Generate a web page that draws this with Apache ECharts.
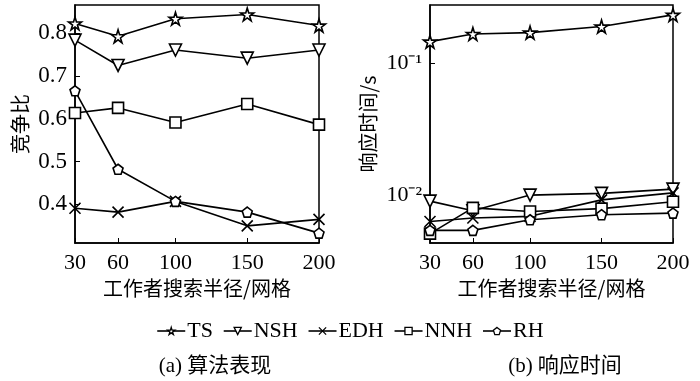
<!DOCTYPE html>
<html>
<head>
<meta charset="utf-8">
<script src="https://cdn.jsdelivr.net/npm/echarts@6/dist/echarts.min.js"></script>
<style>
  html, body { margin: 0; padding: 0; background: #fff; }
  #main { width: 700px; height: 381px; }
</style>
</head>
<body>
<div id="main"></div>
<script>
// 横轴：工作者搜索半径
var radius = [30, 60, 100, 150, 200];
var names = ['TS', 'NSH', 'EDH', 'NNH', 'RH'];

// (a) 竞争比
var ratioTS  = [0.822, 0.792, 0.833, 0.843, 0.817];
var ratioNSH = [0.783, 0.724, 0.760, 0.741, 0.760];
var ratioEDH = [0.391, 0.382, 0.407, 0.350, 0.365];
var ratioNNH = [0.613, 0.625, 0.591, 0.634, 0.586];
var ratioRH  = [0.665, 0.482, 0.407, 0.382, 0.333];

// (b) 响应时间 (s)
var timeTS  = [0.146, 0.167, 0.171, 0.190, 0.233];
var timeNSH = [0.0090, 0.0076, 0.0100, 0.0103, 0.0111];
var timeEDH = [0.0063, 0.0067, 0.0069, 0.0092, 0.0104];
var timeNNH = [0.0051, 0.0080, 0.0075, 0.0079, 0.0089];
var timeRH  = [0.0054, 0.0054, 0.0065, 0.0071, 0.0073];

var xTicks = [30, 60, 100, 150, 200];
var ratioTicks = [0.4, 0.5, 0.6, 0.7, 0.8];
var timeTicks = [0.01, 0.1];

var font = "'Liberation Serif', 'Noto Sans CJK SC', serif";
var cjk = "'Noto Sans CJK SC', 'Liberation Serif', sans-serif";

var symbols = {
  TS: { symbol: 'path://M50,0 L61,35 L98,35 L68,57 L79,91 L50,70 L21,91 L32,57 L2,35 L39,35 Z', size: 13, rotate: 0 },
  NSH: { symbol: 'triangle', size: 12, rotate: 180 },
  EDH: { symbol: 'path://M0,0 L10,10 M10,0 L0,10', size: 11, rotate: 0 },
  NNH: { symbol: 'rect', size: 11, rotate: 0 },
  RH: { symbol: 'path://M50,0 L98,35 L79,91 L21,91 L2,35 Z', size: 10, rotate: 0 }
};

function pairs(vals) {
  return radius.map(function (r, i) { return [r, vals[i]]; });
}

function makeSeries(name, vals, idx) {
  var s = symbols[name];
  return {
    name: name,
    type: 'line',
    xAxisIndex: idx,
    yAxisIndex: idx,
    data: pairs(vals),
    symbol: s.symbol,
    symbolSize: s.size,
    symbolRotate: s.rotate,
    showAllSymbol: true,
    animation: false,
    lineStyle: { color: '#000', width: 1.6 },
    itemStyle: { color: '#fff', borderColor: '#000', borderWidth: 1.6 }
  };
}

function xAxisOf(idx) {
  return {
    type: 'value',
    gridIndex: idx,
    min: 30,
    max: 200,
    name: '工作者搜索半径/网格',
    nameLocation: 'middle',
    nameGap: 35,
    nameTextStyle: { fontFamily: cjk, fontSize: 20, color: '#000' },
    axisLine: { show: true, lineStyle: { color: '#000', width: 1.5 } },
    axisTick: { show: true, inside: true, length: 5, customValues: xTicks, lineStyle: { color: '#000' } },
    axisLabel: { customValues: xTicks, fontFamily: font, fontSize: 22, color: '#000', margin: 9 },
    splitLine: { show: false }
  };
}

var chart = echarts.init(document.getElementById('main'));
var option = {
  backgroundColor: '#fff',
  animation: false,
  title: [
    { text: '(a) 算法表现', left: 210, top: 351, textAlign: 'center',
      textStyle: { fontFamily: font, fontSize: 21, fontWeight: 'normal', color: '#000' } },
    { text: '(b) 响应时间', left: 560, top: 351, textAlign: 'center',
      textStyle: { fontFamily: font, fontSize: 21, fontWeight: 'normal', color: '#000' } }
  ],
  legend: {
    data: names,
    left: 'center',
    top: 315,
    itemWidth: 28,
    itemHeight: 9,
    itemGap: 10,
    itemStyle: { color: '#fff', borderColor: '#000', borderWidth: 1.3 },
    lineStyle: { color: '#000', width: 1.6 },
    textStyle: { fontFamily: font, fontSize: 22, color: '#000', padding: [0, 0, 0, -3] }
  },
  grid: [
    { left: 75, right: 381, top: 5, bottom: 138, show: true, borderColor: '#000', borderWidth: 1.5, backgroundColor: 'transparent' },
    { left: 430, right: 27, top: 5, bottom: 138, show: true, borderColor: '#000', borderWidth: 1.5, backgroundColor: 'transparent' }
  ],
  xAxis: [xAxisOf(0), xAxisOf(1)],
  yAxis: [
    {
      type: 'value',
      gridIndex: 0,
      min: 0.31,
      max: 0.865,
      name: '竞争比',
      nameLocation: 'middle',
      nameGap: 45,
      nameTextStyle: { fontFamily: cjk, fontSize: 20, color: '#000' },
      axisLine: { show: true, lineStyle: { color: '#000', width: 1.5 } },
      axisTick: { show: true, inside: true, length: 5, customValues: ratioTicks, lineStyle: { color: '#000' } },
      axisLabel: { customValues: ratioTicks, fontFamily: font, fontSize: 23, color: '#000', margin: 8,
        formatter: function (v) { return v.toFixed(1); } },
      splitLine: { show: false }
    },
    {
      type: 'log',
      logBase: 10,
      gridIndex: 1,
      min: 0.00433,
      max: 0.277,
      name: '响应时间/s',
      nameLocation: 'middle',
      nameGap: 52,
      nameTextStyle: { fontFamily: cjk, fontSize: 20, color: '#000' },
      axisLine: { show: true, lineStyle: { color: '#000', width: 1.5 } },
      axisTick: { show: true, inside: true, length: 5, customValues: timeTicks, lineStyle: { color: '#000' } },
      axisLabel: { customValues: timeTicks, fontFamily: font, fontSize: 22, color: '#000', margin: 8,
        formatter: function (v) {
          var e = Math.round(Math.log10(v));
          return '10' + (e === -1 ? '⁻¹' : '⁻²');
        } },
      splitLine: { show: false }
    }
  ],
  series: [
    makeSeries('TS', ratioTS, 0),
    makeSeries('NSH', ratioNSH, 0),
    makeSeries('EDH', ratioEDH, 0),
    makeSeries('NNH', ratioNNH, 0),
    makeSeries('RH', ratioRH, 0),
    makeSeries('TS', timeTS, 1),
    makeSeries('NSH', timeNSH, 1),
    makeSeries('EDH', timeEDH, 1),
    makeSeries('NNH', timeNNH, 1),
    makeSeries('RH', timeRH, 1)
  ]
};
chart.setOption(option);
</script>
</body>
</html>
